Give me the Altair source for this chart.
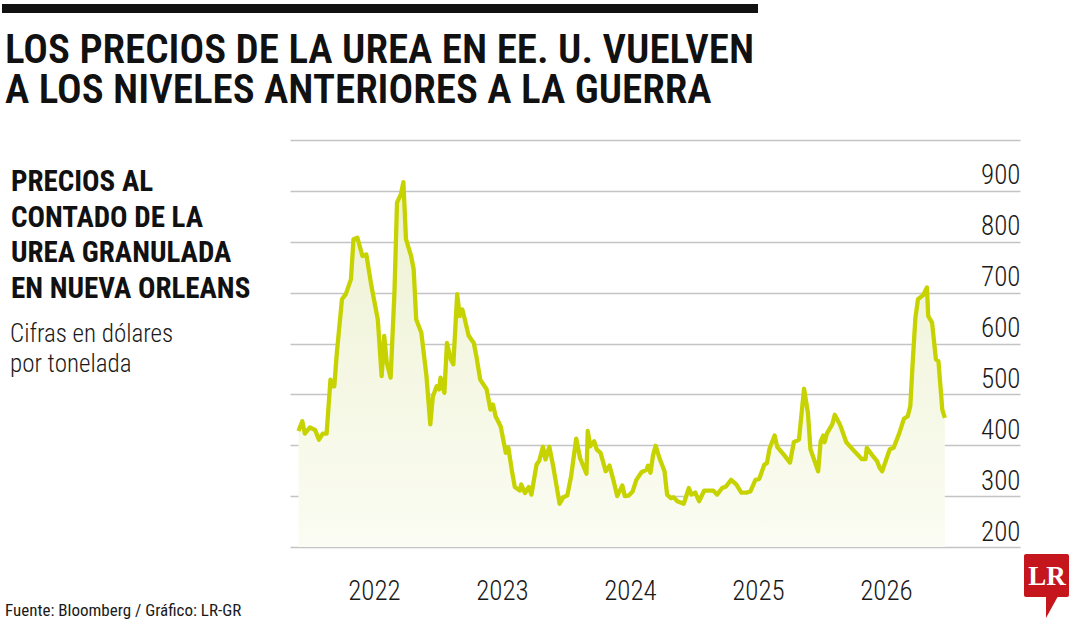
import altair as alt
import pandas as pd

years = [2021.41, 2021.44, 2021.46, 2021.50, 2021.54, 2021.57, 2021.60, 2021.63, 2021.66, 2021.67,
         2021.69, 2021.71, 2021.75, 2021.78, 2021.82, 2021.84, 2021.87, 2021.91, 2021.94, 2021.98,
         2022.03, 2022.06, 2022.08, 2022.10, 2022.13, 2022.16, 2022.18, 2022.21, 2022.23, 2022.25,
         2022.29, 2022.31, 2022.33, 2022.37, 2022.41, 2022.44, 2022.46, 2022.49, 2022.51, 2022.52,
         2022.55, 2022.57, 2022.60, 2022.62, 2022.65, 2022.67, 2022.69, 2022.71, 2022.74, 2022.78,
         2022.80, 2022.83, 2022.88, 2022.91, 2022.93, 2022.95, 2022.99, 2023.02, 2023.03, 2023.05,
         2023.08, 2023.10, 2023.14, 2023.15, 2023.18, 2023.21, 2023.23, 2023.27, 2023.29, 2023.32,
         2023.34, 2023.37, 2023.40, 2023.45, 2023.48, 2023.51, 2023.54, 2023.58, 2023.61, 2023.66,
         2023.67, 2023.69, 2023.72, 2023.74, 2023.77, 2023.81, 2023.84, 2023.87, 2023.90, 2023.94,
         2023.96, 2023.99, 2024.02, 2024.05, 2024.09, 2024.13, 2024.14, 2024.16, 2024.18, 2024.20,
         2024.23, 2024.27, 2024.29, 2024.32, 2024.34, 2024.37, 2024.39, 2024.42, 2024.46, 2024.48,
         2024.51, 2024.54, 2024.58, 2024.62, 2024.65, 2024.68, 2024.72, 2024.75, 2024.79, 2024.83,
         2024.87, 2024.91, 2024.94, 2024.98, 2025.01, 2025.05, 2025.07, 2025.09, 2025.13, 2025.15,
         2025.20, 2025.25, 2025.28, 2025.32, 2025.36, 2025.39, 2025.41, 2025.47, 2025.49, 2025.51,
         2025.52, 2025.54, 2025.58, 2025.60, 2025.64, 2025.69, 2025.74, 2025.81, 2025.84, 2025.85,
         2025.90, 2025.93, 2025.95, 2025.97, 2026.01, 2026.03, 2026.06, 2026.10, 2026.14, 2026.17,
         2026.19, 2026.21, 2026.23, 2026.25, 2026.29, 2026.32, 2026.33, 2026.36, 2026.39, 2026.41,
         2026.44, 2026.46]

# price, dollars per ton
prices = [428, 447, 423, 435, 430, 411, 423, 423, 529, 516,
          516, 582, 687, 697, 726, 805, 808, 772, 775, 713,
          647, 536, 615, 562, 533, 700, 877, 893, 917, 805,
          772, 746, 647, 621, 536, 441, 496, 516, 510, 533,
          503, 601, 569, 559, 697, 654, 667, 647, 615, 601,
          575, 529, 510, 470, 480, 457, 437, 398, 385, 395,
          346, 318, 311, 323, 306, 318, 303, 362, 369, 397,
          372, 397, 359, 285, 298, 301, 339, 413, 375, 344,
          428, 398, 408, 392, 385, 349, 360, 332, 300, 321,
          300, 301, 309, 332, 347, 352, 360, 346, 380, 399,
          375, 349, 303, 296, 298, 290, 288, 285, 316, 303,
          307, 290, 311, 311, 311, 303, 316, 319, 332, 323,
          307, 307, 309, 332, 334, 362, 365, 393, 419, 397,
          382, 366, 406, 411, 511, 464, 392, 349, 408, 419,
          406, 424, 441, 460, 441, 406, 392, 373, 373, 395,
          378, 369, 356, 349, 378, 392, 395, 421, 452, 457,
          477, 569, 651, 687, 695, 710, 654, 641, 569, 565,
          470, 454]

x_ticks = [2022, 2023, 2024, 2025, 2026]
y_ticks = [200, 300, 400, 500, 600, 700, 800, 900, 1000]

title_lines = ["LOS PRECIOS DE LA UREA EN EE. U. VUELVEN",
               "A LOS NIVELES ANTERIORES A LA GUERRA"]
subtitle_bold = ["PRECIOS AL", "CONTADO DE LA", "UREA GRANULADA", "EN NUEVA ORLEANS"]
subtitle_light = ["Cifras en dólares", "por tonelada"]
source = "Fuente: Bloomberg / Gráfico: LR-GR"

df = pd.DataFrame({"year": years, "price": prices})

COND = "Roboto Condensed"
LINE = "#c6d300"
W, H = 730, 407

x_enc = alt.X("year:Q",
              scale=alt.Scale(domain=[2021.344, 2027.047], nice=False, zero=False),
              axis=alt.Axis(values=x_ticks, format="d", title=None, grid=False, domain=False,
                            ticks=False, labelFont=COND, labelFontWeight=300, labelFontSize=27,
                            labelColor="#1a1a1a", labelPadding=31, labelBaseline="top",
                            labelFlush=False))
y_enc = alt.Y("price:Q",
              scale=alt.Scale(domain=[200, 1000], nice=False, zero=False),
              axis=alt.Axis(values=y_ticks, orient="right", title=None, domain=False, ticks=False,
                            grid=True, gridColor="#c4c4c4", gridWidth=1.5,
                            labelExpr="datum.value == 1000 ? '' : datum.label",
                            labelFont=COND, labelFontWeight=300, labelFontSize=27,
                            labelColor="#1a1a1a",
                            labelAlign="right", labelBaseline="alphabetic", labelPadding=0,
                            labelOffset=-7, labelFlush=False))

base = alt.Chart(df)
area = base.mark_area(
    color=alt.Gradient(gradient="linear",
                       stops=[alt.GradientStop(color="#eef2d2", offset=0),
                              alt.GradientStop(color="#fbfcf3", offset=1)],
                       x1=1, x2=1, y1=0, y2=1)
).encode(x=x_enc, y=y_enc, y2=alt.datum(200))
line = base.mark_line(color=LINE, strokeWidth=4.3, strokeJoin="round").encode(x=x_enc, y=y_enc)

one = alt.Chart(pd.DataFrame({"k": [0]}))

bar = one.mark_rect(color="#111").encode(x=alt.value(-288), x2=alt.value(468),
                                          y=alt.value(-136), y2=alt.value(-127))
title = one.mark_text(text=title_lines, font=COND, fontWeight=600, fontSize=41,
                      lineHeight=39.5, align="left", baseline="alphabetic", color="#111"
                      ).encode(x=alt.value(-285), y=alt.value(-77))
sub_b = one.mark_text(text=subtitle_bold, font=COND, fontWeight="bold", fontSize=29,
                      lineHeight=35.7, align="left", baseline="alphabetic", color="#111"
                      ).encode(x=alt.value(-279), y=alt.value(51))
sub_l = one.mark_text(text=subtitle_light, font=COND, fontWeight=300, fontSize=25,
                      lineHeight=30, align="left", baseline="alphabetic", color="#1a1a1a"
                      ).encode(x=alt.value(-280), y=alt.value(202))
src = one.mark_text(text=source, font=COND, fontSize=17, align="left",
                    baseline="alphabetic", color="#1a1a1a"
                    ).encode(x=alt.value(-285), y=alt.value(476))

logo_box = one.mark_rect(color="#c4161c", cornerRadius=2).encode(
    x=alt.value(734), x2=alt.value(779), y=alt.value(414), y2=alt.value(457))
logo_tail = one.mark_point(shape="M0,0 L0,1 L0.55,0 Z", filled=True, color="#c4161c",
                           opacity=1, size=1936
                           ).encode(x=alt.value(756), y=alt.value(456))
logo_txt = one.mark_text(text="LR", font="Liberation Serif", fontWeight="bold", fontSize=27,
                         color="white", align="center", baseline="middle"
                         ).encode(x=alt.value(757), y=alt.value(437))

chart = alt.layer(area, line, bar, title, sub_b, sub_l, src, logo_box, logo_tail, logo_txt
                  ).properties(
    width=W, height=H,
    autosize=alt.AutoSizeParams(type="none"),
    padding={"left": 290, "top": 140, "right": 60, "bottom": 73},
    background="white"
).configure_view(stroke=None)

chart.save("out.html", embed_options={"renderer": "svg", "actions": False})
